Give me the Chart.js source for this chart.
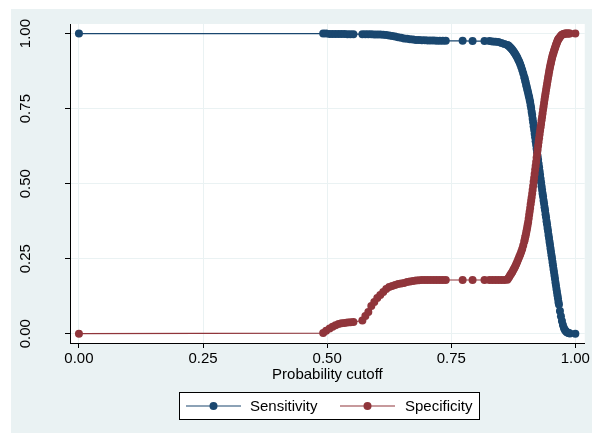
<!DOCTYPE html>
<html>
<head>
<meta charset="utf-8">
<script src="https://cdn.jsdelivr.net/npm/chart.js@4.4.1/dist/chart.umd.min.js"></script>
<style>
  html, body { margin: 0; padding: 0; background: #fff; }
  canvas { display: block; }
</style>
</head>
<body>
<canvas id="lsens" width="592" height="434"></canvas>
<script>
// Probability cutoffs (shared by both curves)
const cutoff = [
  0,
  0.492, 0.498, 0.505, 0.511, 0.517, 0.523, 0.529, 0.535, 0.541, 0.547, 0.553,
  0.571, 0.577, 0.583, 0.589, 0.595, 0.601, 0.607, 0.613, 0.619, 0.625,
  0.631, 0.637, 0.643, 0.649, 0.655, 0.661, 0.667, 0.673, 0.679, 0.685,
  0.691, 0.697, 0.703, 0.709, 0.715, 0.721, 0.727, 0.733, 0.739,
  0.773, 0.793, 0.817,
  0.827, 0.833, 0.839, 0.845, 0.851, 0.857,
  0.863, 0.865, 0.867, 0.869, 0.871, 0.873, 0.875, 0.877, 0.879, 0.881,
  0.883, 0.885, 0.887, 0.889, 0.891, 0.893, 0.895,
  0.897, 0.898, 0.899, 0.900, 0.901, 0.902, 0.903, 0.904, 0.905, 0.906,
  0.907, 0.908, 0.909, 0.910, 0.911, 0.912, 0.913, 0.914, 0.915, 0.916,
  0.917, 0.918, 0.919, 0.920, 0.921, 0.922, 0.923, 0.924, 0.925, 0.926,
  0.927, 0.928, 0.929, 0.930, 0.931, 0.932, 0.933, 0.934, 0.935, 0.936,
  0.937, 0.938, 0.939, 0.940, 0.941, 0.942, 0.943, 0.944, 0.945, 0.946,
  0.947, 0.948, 0.949, 0.950, 0.951, 0.952, 0.953, 0.954, 0.955, 0.956,
  0.957, 0.958, 0.959, 0.960, 0.961, 0.962, 0.963, 0.964, 0.965, 0.966,
  0.967,
  0.969, 0.971, 0.973, 0.975, 0.977, 0.979, 0.981, 0.983, 0.985, 0.987,
  0.989,
  1
];

const sensitivity = [
  1,
  1, 1, 0.999, 0.999, 0.999, 0.999, 0.999, 0.999, 0.998, 0.998, 0.998,
  0.998, 0.998, 0.998, 0.998, 0.997, 0.997, 0.997, 0.996, 0.995, 0.994,
  0.992, 0.990, 0.988, 0.986, 0.984, 0.983, 0.981, 0.980, 0.979, 0.979,
  0.978, 0.978, 0.977, 0.977, 0.977, 0.976, 0.976, 0.976, 0.976,
  0.976, 0.975, 0.975,
  0.975, 0.974, 0.973, 0.972, 0.969, 0.965,
  0.962, 0.960, 0.957, 0.954, 0.950, 0.946, 0.942, 0.937, 0.932, 0.926,
  0.920, 0.913, 0.906, 0.898, 0.889, 0.879, 0.868,
  0.856, 0.850, 0.843, 0.837, 0.829, 0.823, 0.815, 0.809, 0.802, 0.794,
  0.788, 0.779, 0.772, 0.761, 0.752, 0.740, 0.730, 0.716, 0.705, 0.691,
  0.680, 0.666, 0.655, 0.641, 0.630, 0.616, 0.605, 0.591, 0.580, 0.566,
  0.555, 0.541, 0.530, 0.516, 0.505, 0.491, 0.480, 0.467, 0.457, 0.444,
  0.434, 0.421, 0.411, 0.398, 0.388, 0.375, 0.365, 0.352, 0.342, 0.329,
  0.319, 0.306, 0.296, 0.284, 0.273, 0.261, 0.251, 0.239, 0.228, 0.216,
  0.206, 0.194, 0.183, 0.171, 0.161, 0.149, 0.139, 0.128, 0.118, 0.106,
  0.097,
  0.076, 0.058, 0.042, 0.029, 0.019, 0.012, 0.008, 0.005, 0.003, 0.002,
  0.001,
  0
];

const specificity = [
  0,
  0.002, 0.010, 0.017, 0.023, 0.028, 0.032, 0.035, 0.036, 0.037, 0.038, 0.039,
  0.044, 0.059, 0.072, 0.092, 0.106, 0.119, 0.129, 0.139, 0.149, 0.156,
  0.159, 0.162, 0.166, 0.167, 0.169, 0.172, 0.174, 0.176, 0.177, 0.178,
  0.179, 0.179, 0.179, 0.179, 0.179, 0.179, 0.179, 0.179, 0.179,
  0.179, 0.179, 0.179,
  0.179, 0.179, 0.179, 0.179, 0.179, 0.179,
  0.180, 0.185, 0.190, 0.196, 0.201, 0.206, 0.212, 0.218, 0.225, 0.232,
  0.240, 0.248, 0.256, 0.264, 0.273, 0.282, 0.294,
  0.306, 0.313, 0.321, 0.328, 0.336, 0.345, 0.354, 0.363, 0.372, 0.384,
  0.396, 0.407, 0.419, 0.431, 0.443, 0.454, 0.466, 0.479, 0.492, 0.506,
  0.519, 0.532, 0.546, 0.559, 0.572, 0.586, 0.599, 0.613, 0.626, 0.639,
  0.651, 0.664, 0.676, 0.688, 0.699, 0.711, 0.722, 0.734, 0.746, 0.757,
  0.769, 0.780, 0.791, 0.801, 0.812, 0.822, 0.832, 0.842, 0.852, 0.861,
  0.871, 0.880, 0.889, 0.897, 0.904, 0.912, 0.919, 0.925, 0.931, 0.936,
  0.942, 0.947, 0.952, 0.957, 0.962, 0.966, 0.970, 0.975, 0.979, 0.982,
  0.984,
  0.989, 0.993, 0.996, 0.998, 0.999, 1, 1, 1, 1, 1,
  1,
  1
];

const tickValues = [0, 0.25, 0.5, 0.75, 1];
const tickLabels = ['0.00', '0.25', '0.50', '0.75', '1.00'];
const seriesNames = ['Sensitivity', 'Specificity'];
const xTitle = 'Probability cutoff';

const NAVY = '#1a476f';
const MAROON = '#90353b';
const BG = '#eaf2f3';
const FONT = '"Liberation Sans", Arial, Helvetica, sans-serif';
const FS = 15;
const DOT = 4;

function pairs(ys) {
  return cutoff.map((c, i) => ({ x: c, y: ys[i] }));
}

function fixedTicks(scale) {
  scale.ticks = tickValues.map(v => ({ value: v }));
}

// Graph region, white plot region, rotated y labels and boxed legend
const framePlugin = {
  id: 'frame',
  beforeDraw(chart) {
    const { ctx, chartArea: a } = chart;
    ctx.save();
    ctx.fillStyle = '#ffffff';
    ctx.fillRect(0, 0, chart.width, chart.height);
    ctx.fillStyle = BG;
    ctx.fillRect(11, 9, chart.width - 11, 424);
    ctx.fillStyle = '#ffffff';
    ctx.fillRect(a.left, a.top, a.right - a.left, a.bottom - a.top);
    ctx.restore();
  },
  afterDraw(chart) {
    const ctx = chart.ctx;
    const ys = chart.scales.y;
    ctx.save();
    ctx.fillStyle = '#000';
    ctx.font = FS + 'px ' + FONT;
    ctx.textAlign = 'center';
    ctx.textBaseline = 'middle';
    tickValues.forEach((v, i) => {
      ctx.save();
      ctx.translate(26, ys.getPixelForValue(v));
      ctx.rotate(-Math.PI / 2);
      ctx.fillText(tickLabels[i], 0, 0);
      ctx.restore();
    });

    // legend box
    const bx = 179.5, by = 392.5, bw = 300, bh = 27;
    ctx.fillStyle = '#ffffff';
    ctx.fillRect(bx, by, bw, bh);
    ctx.strokeStyle = '#000';
    ctx.lineWidth = 1;
    ctx.strokeRect(bx, by, bw, bh);
    const cy = by + bh / 2;
    const items = [
      { name: seriesNames[0], color: NAVY, x0: 186, x1: 241, tx: 250 },
      { name: seriesNames[1], color: MAROON, x0: 340, x1: 395, tx: 405 }
    ];
    items.forEach(it => {
      ctx.strokeStyle = it.color;
      ctx.lineWidth = 1.2;
      ctx.beginPath();
      ctx.moveTo(it.x0, cy);
      ctx.lineTo(it.x1, cy);
      ctx.stroke();
      ctx.fillStyle = it.color;
      ctx.beginPath();
      ctx.arc((it.x0 + it.x1) / 2, cy, DOT, 0, Math.PI * 2);
      ctx.fill();
      ctx.fillStyle = '#000';
      ctx.textAlign = 'left';
      ctx.fillText(it.name, it.tx, cy + 0.5);
    });
    ctx.restore();
  }
};

function series(name, ys, color, order) {
  return {
    label: name,
    data: pairs(ys),
    showLine: true,
    borderColor: color,
    borderWidth: 1.2,
    backgroundColor: color,
    pointRadius: DOT,
    pointHoverRadius: DOT,
    pointBorderWidth: 0,
    pointBackgroundColor: color,
    order: order
  };
}

new Chart(document.getElementById('lsens'), {
  type: 'scatter',
  data: {
    datasets: [
      series(seriesNames[0], sensitivity, NAVY, 1),
      series(seriesNames[1], specificity, MAROON, 0)
    ]
  },
  options: {
    responsive: false,
    animation: false,
    devicePixelRatio: 1,
    events: [],
    layout: { padding: { top: 24, right: 4, bottom: 50, left: 0 } },
    plugins: {
      legend: { display: false },
      tooltip: { enabled: false }
    },
    scales: {
      x: {
        type: 'linear',
        min: -0.018,
        max: 1.019,
        afterBuildTicks: fixedTicks,
        afterFit(s) { s.height = 41; },
        grid: { color: BG, lineWidth: 1, drawTicks: true, tickLength: 5, tickColor: '#000', tickWidth: 1 },
        border: { display: true, color: '#000', width: 1 },
        ticks: {
          padding: 2,
          color: '#000',
          font: { family: FONT, size: FS },
          maxRotation: 0,
          callback: v => tickLabels[tickValues.indexOf(v)]
        },
        title: {
          display: true,
          text: xTitle,
          color: '#000',
          font: { family: FONT, size: FS },
          padding: 0
        }
      },
      y: {
        type: 'linear',
        min: -0.031,
        max: 1.032,
        afterBuildTicks: fixedTicks,
        afterFit(s) { s.width = 70; },
        grid: { color: BG, lineWidth: 1, drawTicks: true, tickLength: 5, tickColor: '#000', tickWidth: 1 },
        border: { display: true, color: '#000', width: 1 },
        ticks: { display: false }
      }
    }
  },
  plugins: [framePlugin]
});
</script>
</body>
</html>
